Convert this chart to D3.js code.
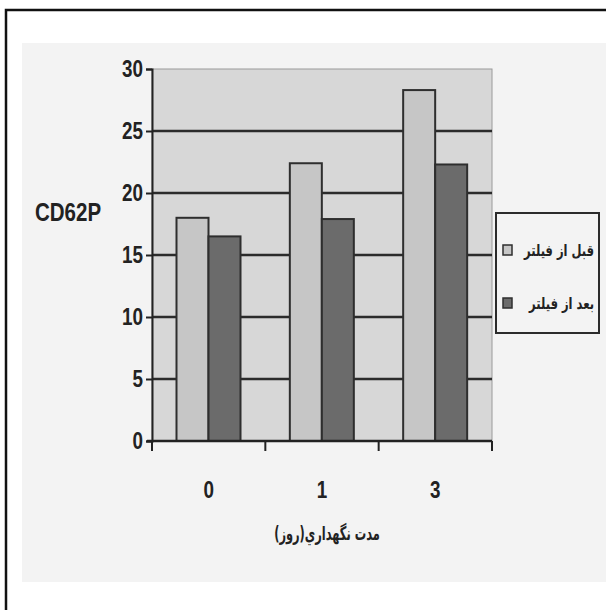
<!DOCTYPE html>
<html>
<head>
<meta charset="utf-8">
<script src="https://cdn.jsdelivr.net/npm/d3@7"></script>
<style>
  body { margin: 0; background: #fff; }
  svg { display: block; }
</style>
</head>
<body>
<svg id="chart"></svg>
<script>
// chart values
const days = ["0", "1", "3"];
const seriesNames = ["قبل از فیلتر", "بعد از فیلتر"];
const beforeFilter = [18.0, 22.4, 28.3];
const afterFilter = [16.5, 17.9, 22.3];
const yTicks = [0, 5, 10, 15, 20, 25, 30];

const width = 606, height = 610;
const plot = { left: 152, right: 492, top: 69, bottom: 441 };
const colors = ["#c6c6c6", "#6b6b6b"];
const numFont = "'Liberation Sans', Arial, sans-serif";
const faFont = "'DejaVu Sans', sans-serif";
const narrow = 0.82; // squeeze to look like Arial Narrow

const svg = d3.select("#chart")
    .attr("width", width)
    .attr("height", height);

// outer frame and figure background
svg.append("rect")
    .attr("x", 6).attr("y", 10)
    .attr("width", width + 10).attr("height", height + 10)
    .attr("fill", "#fff")
    .attr("stroke", "#111")
    .attr("stroke-width", 2.5);

svg.append("rect")
    .attr("x", 22).attr("y", 43)
    .attr("width", width - 22).attr("height", 539)
    .attr("fill", "#f3f3f3");

// scales
const x0 = d3.scaleBand()
    .domain(days)
    .range([plot.left, plot.right]);

const x1 = d3.scaleBand()
    .domain([0, 1])
    .range([24.5, 88.5]);

const y = d3.scaleLinear()
    .domain([0, 30])
    .range([plot.bottom, plot.top]);

// plot background
svg.append("rect")
    .attr("x", plot.left).attr("y", plot.top)
    .attr("width", plot.right - plot.left)
    .attr("height", plot.bottom - plot.top)
    .attr("fill", "#d7d7d7")
    .attr("stroke", "#9a9a9a")
    .attr("stroke-width", 1);

// gridlines
svg.append("g")
    .selectAll("line")
    .data(yTicks.filter(d => d > 0 && d < 30))
    .join("line")
    .attr("x1", plot.left).attr("x2", plot.right)
    .attr("y1", d => y(d)).attr("y2", d => y(d))
    .attr("stroke", "#2b2b2b")
    .attr("stroke-width", 2.5);

// bars
const groups = svg.append("g")
    .selectAll("g")
    .data(days.map((d, i) => ({ day: d, values: [beforeFilter[i], afterFilter[i]] })))
    .join("g")
    .attr("transform", d => `translate(${x0(d.day)},0)`);

groups.selectAll("rect")
    .data(d => d.values)
    .join("rect")
    .attr("x", (d, i) => x1(i))
    .attr("width", x1.bandwidth())
    .attr("y", d => y(d))
    .attr("height", d => y(0) - y(d))
    .attr("fill", (d, i) => colors[i])
    .attr("stroke", "#2e2e2e")
    .attr("stroke-width", 2);

// y axis
const yAxis = svg.append("g")
    .attr("transform", `translate(${plot.left},0)`)
    .call(d3.axisLeft(y).tickValues(yTicks).tickSize(6).tickPadding(5));

yAxis.select(".domain").attr("stroke", "#222").attr("stroke-width", 2);
yAxis.selectAll(".tick line").attr("stroke", "#222").attr("stroke-width", 2);
yAxis.selectAll("text")
    .attr("transform", `scale(${narrow},1)`)
    .attr("font-family", numFont)
    .attr("font-weight", "bold")
    .attr("font-size", 23)
    .attr("fill", "#222");

// x axis: ticks at band edges, labels at band centres
svg.append("line")
    .attr("x1", plot.left - 5).attr("x2", plot.right)
    .attr("y1", plot.bottom).attr("y2", plot.bottom)
    .attr("stroke", "#222")
    .attr("stroke-width", 2.5);

const edges = days.map(d => x0(d)).concat([plot.right]);
svg.append("g")
    .selectAll("line")
    .data(edges)
    .join("line")
    .attr("x1", d => d).attr("x2", d => d)
    .attr("y1", plot.bottom).attr("y2", plot.bottom + 10)
    .attr("stroke", "#222")
    .attr("stroke-width", 2);

const xAxis = svg.append("g")
    .attr("transform", `translate(0,${plot.bottom})`)
    .call(d3.axisBottom(x0).tickSize(0).tickPadding(41));

xAxis.select(".domain").remove();
xAxis.selectAll("text")
    .attr("transform", `scale(${narrow},1)`)
    .attr("font-family", numFont)
    .attr("font-weight", "bold")
    .attr("font-size", 23)
    .attr("fill", "#222");

// axis titles
svg.append("text")
    .attr("transform", "translate(327,540) scale(0.6,1)")
    .attr("text-anchor", "middle")
    .attr("direction", "rtl")
    .attr("font-family", faFont)
    .attr("font-weight", "bold")
    .attr("font-size", 19)
    .attr("fill", "#222")
    .text("مدت نگهداري(روز)");

svg.append("text")
    .attr("transform", `translate(35,221) scale(${narrow},1)`)
    .attr("font-family", numFont)
    .attr("font-weight", "bold")
    .attr("font-size", 25)
    .attr("fill", "#222")
    .text("CD62P");

// legend
const legend = svg.append("g");
legend.append("rect")
    .attr("x", 496).attr("y", 213)
    .attr("width", 103).attr("height", 120)
    .attr("fill", "#f3f3f3")
    .attr("stroke", "#2b2b2b")
    .attr("stroke-width", 2);

const items = legend.selectAll(".legend")
    .data(seriesNames)
    .join("g")
    .attr("class", "legend")
    .attr("transform", (d, i) => `translate(0,${250 + i * 53})`);

items.append("rect")
    .attr("x", 503).attr("y", -5)
    .attr("width", 9).attr("height", 10)
    .attr("fill", (d, i) => colors[i])
    .attr("stroke", "#2e2e2e")
    .attr("stroke-width", 1.5);

items.append("text")
    .attr("transform", "translate(594,6) scale(0.72,1)")
    .attr("text-anchor", "end")
    .attr("font-family", faFont)
    .attr("font-weight", "bold")
    .attr("font-size", 16)
    .attr("fill", "#222")
    .text(d => d);
</script>
</body>
</html>
